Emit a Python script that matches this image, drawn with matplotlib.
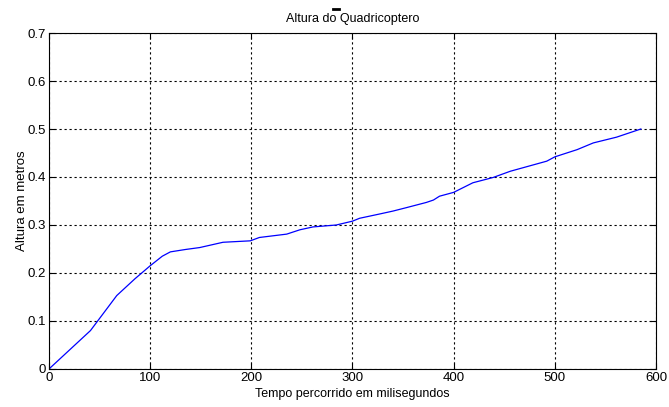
import matplotlib.pyplot as plt

plt.rcParams["font.family"] = ["Liberation Sans", "DejaVu Sans"]

# tempo (ms) e altura (m)
tempo = [0, 41, 67, 85, 100, 112, 120, 135, 149, 172, 199, 208, 235, 248,
         261, 284, 300, 307, 327, 340, 353, 373, 380, 386, 400, 419, 439,
         456, 492, 500, 522, 538, 561, 585]
altura = [0.0, 0.080, 0.153, 0.188, 0.215, 0.235, 0.244, 0.249, 0.253,
          0.264, 0.267, 0.274, 0.281, 0.290, 0.296, 0.300, 0.308, 0.314,
          0.323, 0.329, 0.336, 0.347, 0.352, 0.360, 0.368, 0.388, 0.399,
          0.412, 0.433, 0.442, 0.457, 0.471, 0.483, 0.500]

fig = plt.figure(figsize=(6.69, 4.07), dpi=100)
ax = fig.add_axes([0.0732, 0.0934, 0.9074, 0.8255])
ax.plot(tempo, altura, color="#0000ff", linewidth=0.9)

ax.set_xlim(0, 600)
ax.set_ylim(0, 0.7)
ax.set_xticks(range(0, 601, 100))
ax.set_yticks([i / 10 for i in range(8)])
ax.set_yticklabels(["0", "0.1", "0.2", "0.3", "0.4", "0.5", "0.6", "0.7"])
ax.grid(True, color="black", linestyle=(0, (2, 2.5)), linewidth=0.8)
ax.tick_params(direction="in", top=True, right=True, length=4,
               labelsize=9.5, pad=2)
for s in ax.spines.values():
    s.set_linewidth(0.8)

ax.set_title("Altura do Quadricoptero", fontsize=9, pad=8)
ax.set_xlabel("Tempo percorrido em milisegundos", fontsize=9, labelpad=3)
ax.set_ylabel("Altura em metros", fontsize=9.5, labelpad=0)

# pequena marca acima do titulo, como no original
fig.add_artist(plt.Line2D([333 / 669, 339 / 669], [1 - 9 / 407, 1 - 9 / 407],
                          color="black", linewidth=2))

fig.savefig("out.png", dpi=100)
